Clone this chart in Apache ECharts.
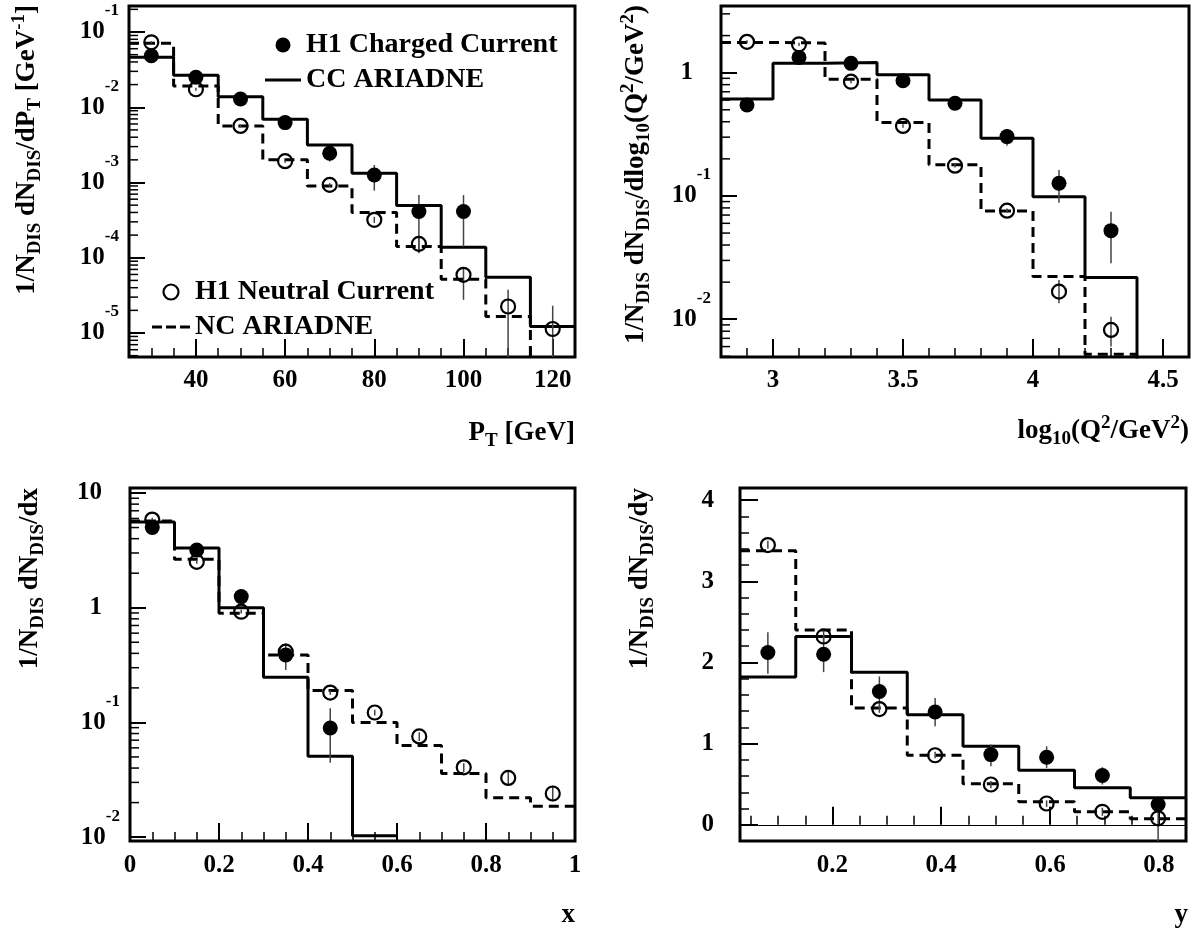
<!DOCTYPE html>
<html><head><meta charset="utf-8">
<script src="https://cdn.jsdelivr.net/npm/echarts@6/dist/echarts.min.js"></script>
<style>html,body{margin:0;padding:0;background:#fff}#chart{width:1195px;height:939px}</style>
</head><body><div id="chart"></div>
<script>
// ---------------- DATA ----------------
// Panel 1: P_T
const ptEdges = [25,35,45,55,65,75,85,95,105,115,125];
const ptCentres = [30,40,50,60,70,80,90,100,110,120];
const ptCCModel = [0.0461,0.0266,0.01384,0.00693,0.00316,0.00133,4.94e-4,1.38e-4,5.5e-5,1.22e-5];
const ptNCModel = [0.0708,0.0192,0.00565,0.00200,9.0e-4,3.98e-4,1.41e-4,5.2e-5,1.66e-5,1e-9];
const ptCCData = [0.0484,0.0250,0.01288,0.00625,0.00245,0.00126,4.11e-4,4.11e-4];
const ptCCLo   = [0.0460,0.0237,0.0121,0.0058,0.0019,7.8e-4,1.3e-4,1.4e-4];
const ptCCHi   = [0.0510,0.0264,0.0137,0.0067,0.0029,1.71e-3,6.8e-4,6.8e-4];
const ptNCData = [0.0730,0.01734,0.00565,0.00192,9.3e-4,3.19e-4,1.53e-4,5.93e-5,2.25e-5,1.13e-5];
const ptNCLo   = [0.0705,0.0166,0.0054,0.00183,8.8e-4,2.9e-4,1.15e-4,2.76e-5,1e-9,1e-9];
const ptNCHi   = [0.0755,0.0181,0.0059,0.00201,9.8e-4,3.5e-4,1.91e-4,7.28e-5,3.75e-5,2.3e-5];

// Panel 2: log10(Q^2)
const q2Edges = [2.8,3.0,3.2,3.4,3.6,3.8,4.0,4.2,4.4,4.6];
const q2Centres = [2.9,3.1,3.3,3.5,3.7,3.9,4.1,4.3];
const q2CCModel = [0.612,1.19,1.21,0.963,0.601,0.294,0.0987,0.0218,1e-9];
const q2NCModel = [1.76,1.74,0.883,0.394,0.1795,0.0755,0.0222,0.0052];
const q2CCData = [0.547,1.33,1.19,0.861,0.565,0.303,0.1267,0.0523];
const q2CCLo   = [0.510,1.26,1.13,0.820,0.535,0.255,0.0883,0.0284];
const q2CCHi   = [0.585,1.41,1.25,0.900,0.595,0.350,0.1625,0.0746];
const q2NCData = [1.78,1.70,0.845,0.370,0.176,0.076,0.01675,0.00819];
const q2NCLo   = [1.73,1.65,0.820,0.358,0.170,0.073,0.0135,0.0060];
const q2NCHi   = [1.83,1.75,0.870,0.382,0.182,0.079,0.0208,0.0105];

// Panel 3: x
const xEdges = [0,0.1,0.2,0.3,0.4,0.5,0.6,0.7,0.8,0.9,1.0];
const xCentres = [0.05,0.15,0.25,0.35,0.45,0.55,0.65,0.75,0.85,0.95];
const xCCModel = [5.6,3.32,1.0,0.248,0.0506,0.0103];
const xNCModel = [5.7,2.64,0.894,0.388,0.19,0.1,0.063,0.0358,0.022,0.0186];
const xCCData = [5.0,3.18,1.25,0.388,0.0894];
const xCCLo   = [4.8,3.0,1.17,0.287,0.0444];
const xCCHi   = [5.2,3.35,1.33,0.49,0.133];
const xNCData = [5.87,2.51,0.923,0.414,0.182,0.122,0.0755,0.0406,0.0328,0.024];
const xNCLo   = [5.65,2.42,0.89,0.398,0.174,0.115,0.069,0.037,0.028,0.0205];
const xNCHi   = [6.1,2.60,0.96,0.430,0.190,0.129,0.082,0.044,0.038,0.028];

// Panel 4: y
const yEdges = [0.03,0.1325,0.235,0.3375,0.44,0.5425,0.645,0.7475,0.85];
const yCentres = [0.08125,0.18375,0.28625,0.38875,0.49125,0.59375,0.69625,0.79875];
const yCCModel = [1.82,2.32,1.88,1.357,0.967,0.672,0.455,0.332];
const yNCModel = [3.377,2.40,1.439,0.857,0.504,0.283,0.16,0.075];
const yCCData = [2.123,2.102,1.643,1.389,0.865,0.832,0.607,0.25];
const yCCLo   = [1.861,1.881,1.459,1.213,0.721,0.701,0.496,0.19];
const yCCHi   = [2.373,2.32,1.828,1.561,0.988,0.967,0.709,0.31];
const yNCData = [3.447,2.32,1.426,0.857,0.496,0.262,0.16,0.08];
const yNCLo   = [3.40,2.24,1.38,0.82,0.45,0.22,0.11,-0.3];
const yNCHi   = [3.50,2.40,1.47,0.90,0.54,0.30,0.21,0.18];

const logMinorMultipliers = [2,3,4,5,6,7,8,9];

// ---------------- STYLE / HELPERS ----------------
const FONT = 'Liberation Serif';
const tickRich = {
  b:  {fontFamily: FONT, fontWeight: 'bold', fontSize: 25, color: '#000'},
  bp: {fontFamily: FONT, fontWeight: 'bold', fontSize: 25, color: '#000', padding: [0, 18, 0, 0]},
  s:  {fontFamily: FONT, fontWeight: 'bold', fontSize: 17, color: '#000', padding: [0, 0, 42, 0]}
};
const titleRich = {
  m:   {fontFamily: FONT, fontWeight: 'bold', fontSize: 27, color: '#000'},
  sub: {fontFamily: FONT, fontWeight: 'bold', fontSize: 19, color: '#000', padding: [16, 0, 0, 0]},
  sup: {fontFamily: FONT, fontWeight: 'bold', fontSize: 19, color: '#000', padding: [0, 0, 16, 0]}
};

function hist(edges, vals) {
  const pts = vals.map((v, i) => [edges[i], v]);
  pts.push([edges[vals.length], vals[vals.length - 1]]);
  return pts;
}
function logLabel(v) {
  const l = Math.log10(v), e = Math.round(l);
  if (Math.abs(l - e) > 1e-6) return '';
  if (e === 0) return '{bp|1}';
  if (e === 1) return '{bp|10}';
  return '{b|10}{s|' + e + '}';
}
function multipleLabel(step) {
  return function (v) {
    const k = v / step;
    return Math.abs(k - Math.round(k)) < 1e-6 ? String(+v.toFixed(4)) : '';
  };
}
const tickStyle = {inside: true, length: 18, lineStyle: {color: '#000', width: 2}};
const minorStyle = {show: true, length: 9, lineStyle: {color: '#000', width: 1.5}};
const labelBase = {fontFamily: FONT, fontWeight: 'bold', fontSize: 25, color: '#000'};

function xAxisLin(gi, min, max, split, minorSplit, step, margin, interval) {
  const a = {type: 'value', gridIndex: gi, min, max, splitNumber: split,
    axisLine: {show: false}, splitLine: {show: false},
    axisTick: tickStyle, minorTick: Object.assign({splitNumber: minorSplit}, minorStyle),
    axisLabel: Object.assign({margin, formatter: multipleLabel(step)}, labelBase)};
  if (interval) a.interval = interval;
  return a;
}
function yAxisLog(gi, min, max, split) {
  return {type: 'log', logBase: 10, gridIndex: gi, min, max, splitNumber: split,
    axisLine: {show: false}, splitLine: {show: false},
    axisTick: {inside: true, length: 16, lineStyle: {color: '#000', width: 2}},
    axisLabel: Object.assign({margin: 10, formatter: logLabel, rich: tickRich}, labelBase)};
}
function minorLogTicks(gi, xmin, ymin, ymax) {
  const data = [];
  for (let d = Math.floor(Math.log10(ymin)); d <= Math.ceil(Math.log10(ymax)); d++) {
    logMinorMultipliers.forEach(m => {
      const v = m * Math.pow(10, d);
      if (v > ymin && v < ymax) data.push([xmin, v]);
    });
  }
  return {type: 'custom', xAxisIndex: gi, yAxisIndex: gi, silent: true, clip: true, z: 1, data,
    renderItem(params, api) {
      const p = api.coord([api.value(0), api.value(1)]);
      return {type: 'line', shape: {x1: p[0], y1: p[1], x2: p[0] + 9, y2: p[1]},
        style: {stroke: '#000', lineWidth: 1.5}};
    }};
}
function errSeries(gi, xs, lo, hi) {
  return {type: 'custom', xAxisIndex: gi, yAxisIndex: gi, silent: true, clip: true, z: 3,
    data: xs.slice(0, lo.length).map((x, i) => [x, lo[i], hi[i]]),
    encode: {x: 0, y: [1, 2]},
    renderItem(params, api) {
      const a = api.coord([api.value(0), api.value(2)]);
      const b = api.coord([api.value(0), api.value(1)]);
      return {type: 'line', shape: {x1: a[0], y1: a[1], x2: b[0], y2: b[1]},
        style: {stroke: '#444', lineWidth: 1.5}};
    }};
}
function histSeries(gi, name, edges, vals, dashed, extra) {
  return Object.assign({type: 'line', name, xAxisIndex: gi, yAxisIndex: gi, step: 'end',
    showSymbol: false, symbol: 'none', z: 2, clip: true,
    lineStyle: {color: '#000', width: 3, type: dashed ? [10, 6] : 'solid'},
    itemStyle: {color: '#000'}, data: hist(edges, vals)}, extra || {});
}
function ptsSeries(gi, name, xs, vals, open) {
  return {type: 'scatter', name, xAxisIndex: gi, yAxisIndex: gi, z: 4, clip: true,
    symbol: 'circle', symbolSize: open ? 14 : 15,
    itemStyle: open ? {color: 'rgba(0,0,0,0)', borderColor: '#000', borderWidth: 2.2, opacity: 1}
                    : {color: '#000', opacity: 1},
    data: vals.map((v, i) => [xs[i], v])};
}
function panelSeries(gi, edges, centres, ccM, ncM, ccD, ccLo, ccHi, ncD, ncLo, ncHi, extraNC) {
  return [
    histSeries(gi, 'CC ARIADNE', edges, ccM, false),
    histSeries(gi, 'NC ARIADNE', edges, ncM, true, extraNC),
    errSeries(gi, centres, ccLo, ccHi),
    errSeries(gi, centres, ncLo, ncHi),
    ptsSeries(gi, 'H1 Charged Current', centres, ccD, false),
    ptsSeries(gi, 'H1 Neutral Current', centres, ncD, true)
  ];
}

const gridBase = {show: true, borderColor: '#000', borderWidth: 3, backgroundColor: 'rgba(0,0,0,0)'};
const Y1 = [4.8e-6, 0.2216], Y2 = [0.00494, 3.475], Y3 = [0.00925, 11.06];

const series = [].concat(
  panelSeries(0, ptEdges, ptCentres, ptCCModel, ptNCModel, ptCCData, ptCCLo, ptCCHi, ptNCData, ptNCLo, ptNCHi),
  panelSeries(1, q2Edges, q2Centres, q2CCModel, q2NCModel, q2CCData, q2CCLo, q2CCHi, q2NCData, q2NCLo, q2NCHi),
  panelSeries(2, xEdges, xCentres, xCCModel, xNCModel, xCCData, xCCLo, xCCHi, xNCData, xNCLo, xNCHi),
  panelSeries(3, yEdges, yCentres, yCCModel, yNCModel, yCCData, yCCLo, yCCHi, yNCData, yNCLo, yNCHi,
    {markLine: {silent: true, symbol: ['none', 'none'], label: {show: false},
      lineStyle: {color: '#000', width: 1, type: 'solid'}, data: [{yAxis: 0}]}}),
  [minorLogTicks(0, 25, Y1[0], Y1[1]), minorLogTicks(1, 2.8, Y2[0], Y2[1]), minorLogTicks(2, 0, Y3[0], Y3[1])]
);

function rotTitle(x, y, text) {
  return {type: 'text', x, y, rotation: Math.PI / 2,
    style: {text, rich: titleRich, align: 'right', verticalAlign: 'middle', fontFamily: FONT}};
}
function xTitle(x, y, text) {
  return {type: 'text', x, y,
    style: {text, rich: titleRich, align: 'right', verticalAlign: 'middle', fontFamily: FONT}};
}
const SOLID_ICON = 'path://M0,0H36V3H0Z';
const DASH_ICON = 'path://M0,0H10V3H0Z M14,0H24V3H14Z M28,0H38V3H28Z';
const legendText = {fontFamily: FONT, fontWeight: 'bold', fontSize: 28, color: '#000', lineHeight: 28};

const option = {
  animation: false,
  backgroundColor: '#fff',
  grid: [
    Object.assign({left: 129, top: 6, width: 446, height: 351}, gridBase),
    Object.assign({left: 721, top: 6, width: 468, height: 351}, gridBase),
    Object.assign({left: 130, top: 488, width: 445, height: 353}, gridBase),
    Object.assign({left: 740, top: 488, width: 446, height: 353}, gridBase)
  ],
  xAxis: [
    xAxisLin(0, 25, 125, 5, 4, 20, 11),
    xAxisLin(1, 2.8, 4.6, 4, 5, 0.5, 11),
    xAxisLin(2, 0, 1, 5, 4, 0.2, 12, 0.2),
    xAxisLin(3, 0.03, 0.85, 4, 4, 0.2, 12)
  ],
  yAxis: [
    yAxisLog(0, Y1[0], Y1[1], 5),
    yAxisLog(1, Y2[0], Y2[1], 3),
    yAxisLog(2, Y3[0], Y3[1], 3),
    {type: 'value', gridIndex: 3, min: -0.2, max: 4.15, splitNumber: 5,
      axisLine: {show: false}, splitLine: {show: false},
      axisTick: tickStyle, minorTick: Object.assign({splitNumber: 5}, minorStyle),
      axisLabel: Object.assign({margin: 26, formatter: multipleLabel(1)}, labelBase)}
  ],
  legend: [
    {left: 260, top: 26, orient: 'vertical', itemWidth: 36, itemHeight: 15, itemGap: 7,
      selectedMode: false, textStyle: legendText,
      data: [
        {name: 'H1 Charged Current', icon: 'circle', itemStyle: {color: '#000', borderWidth: 0, opacity: 1}},
        {name: 'CC ARIADNE', icon: SOLID_ICON, itemStyle: {color: '#000', borderWidth: 0, opacity: 1}}
      ]},
    {left: 147, top: 273, orient: 'vertical', itemWidth: 38, itemHeight: 15, itemGap: 7,
      selectedMode: false, textStyle: legendText,
      data: [
        {name: 'H1 Neutral Current', icon: 'circle',
          itemStyle: {color: 'rgba(0,0,0,0)', borderColor: '#000', borderWidth: 2.2, opacity: 1}},
        {name: 'NC ARIADNE', icon: DASH_ICON, itemStyle: {color: '#000', borderWidth: 0, opacity: 1}}
      ]}
  ],
  graphic: [
    rotTitle(27, 5, '{m|1/N}{sub|DIS}{m| dN}{sub|DIS}{m|/dP}{sub|T}{m| [GeV}{sup|-1}{m|]}'),
    rotTitle(636, 5, '{m|1/N}{sub|DIS}{m| dN}{sub|DIS}{m|/dlog}{sub|10}{m|(Q}{sup|2}{m|/GeV}{sup|2}{m|)}'),
    rotTitle(30, 488, '{m|1/N}{sub|DIS}{m| dN}{sub|DIS}{m|/dx}'),
    rotTitle(640, 488, '{m|1/N}{sub|DIS}{m| dN}{sub|DIS}{m|/dy}'),
    xTitle(575, 433, '{m|P}{sub|T}{m| [GeV]}'),
    xTitle(1189, 431, '{m|log}{sub|10}{m|(Q}{sup|2}{m|/GeV}{sup|2}{m|)}'),
    xTitle(575, 915, '{m|x}'),
    xTitle(1188, 915, '{m|y}')
  ],
  series
};
const chart = echarts.init(document.getElementById('chart'), null, {renderer: 'canvas'});
chart.setOption(option);
</script></body></html>
